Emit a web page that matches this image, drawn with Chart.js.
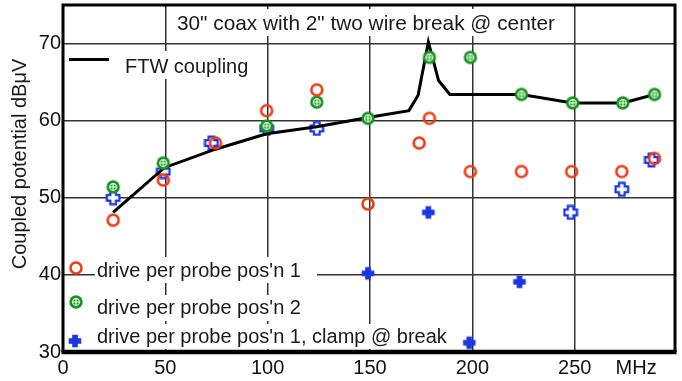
<!DOCTYPE html>
<html>
<head>
<meta charset="utf-8">
<script src="https://cdn.jsdelivr.net/npm/chart.js@4/dist/chart.umd.min.js"></script>
<style>
  html, body { margin: 0; padding: 0; background: #fff; }
  #chart { display: block; }
</style>
</head>
<body>
<canvas id="chart" width="682" height="381"></canvas>
<script>
// Values (MHz, dBuV).
const ftwFreq = [24.5, 49.5, 74.5, 99.5, 124, 149, 169, 173.5, 178.5, 183.5, 189, 224, 249, 273.5, 289];
const ftwLevel = [48.1, 53.9, 56.3, 58.3, 59.2, 60.4, 61.3, 63.3, 70.2, 65.2, 63.4, 63.4, 62.3, 62.3, 63.4];

const pos1Freq = [24.5, 49, 74.5, 99.5, 124, 149, 174, 179, 199, 224, 248.5, 273, 289];
const pos1Level = [47.1, 52.3, 57.1, 61.3, 64.0, 49.2, 57.1, 60.3, 53.4, 53.4, 53.4, 53.4, 55.1];

const pos2Freq = [24.5, 49, 99.5, 124, 149, 179, 199, 224, 249, 273.5, 289];
const pos2Level = [51.4, 54.5, 59.3, 62.4, 60.3, 68.2, 68.2, 63.4, 62.3, 62.3, 63.4];

const clampFreq = [149, 178.5, 198.5, 223];
const clampLevel = [40.2, 48.1, 31.2, 39.1];

// hollow blue marks, no legend entry in the original
const extraFreq = [24.5, 49, 72.5, 99.5, 124, 248, 273, 287.5];
const extraLevel = [50.0, 53.4, 57.1, 59.0, 59.0, 48.1, 51.1, 54.9];

const xTickValues = [0, 50, 100, 150, 200, 250, 280];
const xTickLabels = ['0', '50', '100', '150', '200', '250', 'MHz'];
const yTickValues = [30, 40, 50, 60, 70];

const titleText = '30" coax with 2" two wire break @ center';
const yTitle = 'Coupled potential dB\u03bcV';
const ftwLabel = 'FTW coupling';
const pos1Label = "drive per probe pos'n 1";
const pos2Label = "drive per probe pos'n 2";
const clampLabel = "drive per probe pos'n 1, clamp @ break";

const RED = '#ef3b14';
const GREEN = '#14961e';
const BLUE = '#1836e6';
const FONT = '"Liberation Sans", Arial, sans-serif';

function pts(xs, ys) {
  return xs.map((x, i) => ({ x: x, y: ys[i] }));
}

function marker(draw) {
  const c = document.createElement('canvas');
  c.width = 16; c.height = 16;
  const g = c.getContext('2d');
  g.translate(8, 8);
  draw(g);
  return c;
}

function crossPath(g) {
  const a = 2.8, b = 6.3;
  g.beginPath();
  g.moveTo(-a, -b); g.lineTo(a, -b); g.lineTo(a, -a); g.lineTo(b, -a);
  g.lineTo(b, a); g.lineTo(a, a); g.lineTo(a, b); g.lineTo(-a, b);
  g.lineTo(-a, a); g.lineTo(-b, a); g.lineTo(-b, -a); g.lineTo(-a, -a);
  g.closePath();
}

const redMark = marker(g => {
  g.strokeStyle = RED; g.lineWidth = 2.6;
  g.beginPath(); g.arc(0, 0, 5.5, 0, Math.PI * 2); g.stroke();
});
const greenMark = marker(g => {
  g.fillStyle = GREEN;
  g.beginPath(); g.arc(0, 0, 6.7, 0, Math.PI * 2); g.fill();
  g.strokeStyle = '#fff'; g.lineWidth = 1.1;
  g.beginPath(); g.arc(0, 0, 3.4, 0, Math.PI * 2); g.stroke();
  g.beginPath(); g.moveTo(-3.4, 0); g.lineTo(3.4, 0); g.moveTo(0, -3.4); g.lineTo(0, 3.4); g.stroke();
});
const blueMark = marker(g => {
  g.fillStyle = BLUE; crossPath(g); g.fill();
});
const blueHollow = marker(g => {
  crossPath(g);
  g.fillStyle = '#fff'; g.fill();
  g.strokeStyle = BLUE; g.lineWidth = 2.2; g.stroke();
});

// White-backed title and legend drawn inside the plot, frame on top.
const overlay = {
  id: 'overlay',
  beforeDatasetsDraw(chart) {
    const ctx = chart.ctx;
    ctx.save();
    ctx.fillStyle = '#fff';
    ctx.fillRect(172, 9, 390, 27);
    ctx.fillRect(118, 51, 132, 28);
    ctx.fillRect(95, 257, 222, 26);
    ctx.fillRect(95, 295, 222, 26);
    ctx.fillRect(95, 324, 357, 25);

    ctx.fillStyle = '#1a1a1a';
    ctx.textBaseline = 'alphabetic';
    ctx.textAlign = 'center';
    ctx.font = '20.8px ' + FONT;
    ctx.fillText(titleText, 366, 30);
    ctx.font = '20px ' + FONT;
    ctx.textAlign = 'left';
    ctx.fillText(ftwLabel, 125, 73);
    ctx.fillText(pos1Label, 97, 277);
    ctx.fillText(pos2Label, 97, 314);
    ctx.fillText(clampLabel, 97, 343);

    ctx.strokeStyle = '#000';
    ctx.lineWidth = 3;
    ctx.beginPath(); ctx.moveTo(69, 59.5); ctx.lineTo(109, 59.5); ctx.stroke();
    ctx.drawImage(redMark, 76 - 8, 268 - 8);
    ctx.drawImage(greenMark, 76 - 8, 302 - 8);
    ctx.drawImage(blueMark, 75 - 8, 341 - 8);

    ctx.translate(20, 164);
    ctx.rotate(-Math.PI / 2);
    ctx.textAlign = 'center';
    ctx.textBaseline = 'middle';
    ctx.fillText(yTitle, 0, 0);
    ctx.restore();
  },
  afterDatasetsDraw(chart) {
    const a = chart.chartArea;
    const ctx = chart.ctx;
    ctx.save();
    ctx.strokeStyle = '#000';
    ctx.lineWidth = 3;
    ctx.beginPath();
    ctx.moveTo(a.left, a.bottom); ctx.lineTo(a.left, a.top);
    ctx.lineTo(a.right, a.top); ctx.lineTo(a.right, a.bottom);
    ctx.stroke();
    ctx.lineWidth = 4.5;
    ctx.beginPath();
    ctx.moveTo(a.left - 1.5, a.bottom); ctx.lineTo(a.right + 1.5, a.bottom);
    ctx.stroke();
    ctx.restore();
  }
};

Chart.defaults.font.family = FONT;
Chart.defaults.font.size = 20;
Chart.defaults.color = '#111';

new Chart(document.getElementById('chart'), {
  type: 'scatter',
  data: {
    datasets: [
      { label: 'extra', data: pts(extraFreq, extraLevel), pointStyle: blueHollow, order: 5 },
      { label: ftwLabel, data: pts(ftwFreq, ftwLevel), showLine: true, borderColor: '#000', borderWidth: 3,
        pointRadius: 0, pointHoverRadius: 0, fill: false, tension: 0, order: 4 },
      { label: pos2Label, data: pts(pos2Freq, pos2Level), pointStyle: greenMark, order: 3 },
      { label: pos1Label, data: pts(pos1Freq, pos1Level), pointStyle: redMark, order: 2 },
      { label: clampLabel, data: pts(clampFreq, clampLevel), pointStyle: blueMark, order: 1 }
    ]
  },
  options: {
    responsive: false,
    devicePixelRatio: 1,
    animation: false,
    events: [],
    layout: { padding: { left: 0, top: 4, right: 7, bottom: 0 } },
    plugins: { legend: { display: false }, tooltip: { enabled: false } },
    scales: {
      x: {
        type: 'linear', min: 0, max: 299,
        afterFit: s => { s.height = 29; s.paddingLeft = 0; s.paddingRight = 0; },
        afterBuildTicks: s => { s.ticks = xTickValues.map(v => ({ value: v })); },
        border: { display: false },
        grid: {
          drawTicks: false, lineWidth: 1.5,
          color: c => (c.tick && c.tick.value > 0 && c.tick.value <= 250) ? '#333' : 'rgba(0,0,0,0)'
        },
        ticks: {
          padding: 4, autoSkip: false, maxRotation: 0,
          callback: (v, i) => xTickLabels[i]
        }
      },
      y: {
        type: 'linear', min: 30, max: 75,
        afterFit: s => { s.width = 63; s.paddingTop = 0; s.paddingBottom = 0; },
        afterBuildTicks: s => { s.ticks = yTickValues.map(v => ({ value: v })); },
        border: { display: false },
        grid: {
          drawTicks: false, lineWidth: 1.5,
          color: c => (c.tick && c.tick.value > 30) ? '#333' : 'rgba(0,0,0,0)'
        },
        ticks: { padding: 2 }
      }
    }
  },
  plugins: [overlay]
});
</script>
</body>
</html>
